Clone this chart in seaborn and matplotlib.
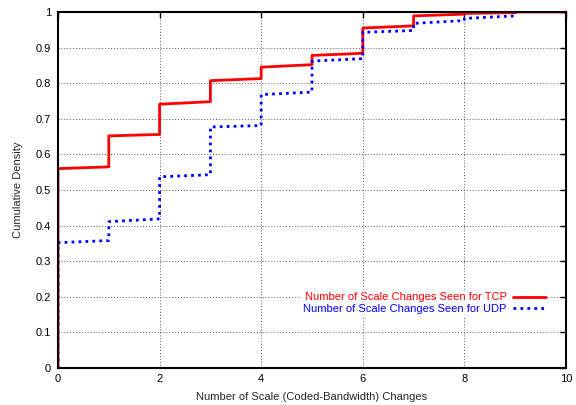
import numpy as np
import pandas as pd
import matplotlib
matplotlib.use("Agg")
import matplotlib.pyplot as plt
import seaborn as sns

# Empirical CDF of scale changes: value just before and just after each integer step
changes = [0, 1, 2, 3, 4, 5, 6, 7, 8, 9, 10]
tcp_before = [0.0, 0.565, 0.656, 0.748, 0.813, 0.852, 0.884, 0.961, 0.994, 0.998, 1.0]
tcp_after = [0.56, 0.652, 0.741, 0.807, 0.845, 0.878, 0.955, 0.989, 0.996, 1.0, 1.0]
udp_changes = [0, 1, 2, 3, 4, 5, 6, 7, 8, 9]
udp_before = [0.0, 0.358, 0.419, 0.543, 0.681, 0.775, 0.869, 0.948, 0.976, 0.989]
udp_after = [0.352, 0.411, 0.537, 0.677, 0.768, 0.862, 0.943, 0.968, 0.982, 1.0]

tcp_label = "Number of Scale Changes Seen for TCP"
udp_label = "Number of Scale Changes Seen for UDP"


def step_frame(xs, before, after, name):
    x = np.repeat(xs, 2)
    y = np.ravel(np.column_stack([before, after]))
    return pd.DataFrame({"changes": x, "cdf": y, "series": name})


df = pd.concat([
    step_frame(changes, tcp_before, tcp_after, tcp_label),
    step_frame(udp_changes, udp_before, udp_after, udp_label),
], ignore_index=True)

sns.set_style("white")
plt.rcParams["font.family"] = ["Liberation Sans", "DejaVu Sans"]

fig = plt.figure(figsize=(5.76, 4.05), dpi=100)
ax = fig.add_axes([0.1007, 0.0914, 0.8819, 0.879])

sns.lineplot(data=df[df.series == tcp_label], x="changes", y="cdf", sort=False,
             estimator=None, color="#ff0000", lw=2, ax=ax, label=tcp_label)
sns.lineplot(data=df[df.series == udp_label], x="changes", y="cdf", sort=False,
             estimator=None, color="#0000ff", lw=2, ax=ax, label=udp_label,
             linestyle=(0, (1, 1.5)), dash_capstyle="butt")

ax.set_xlim(0, 10)
ax.set_ylim(0, 1)
ax.set_xticks(np.arange(0, 11, 2))
ax.set_yticks(np.round(np.arange(0, 1.01, 0.1), 1))
ax.set_yticklabels(["0", "0.1", "0.2", "0.3", "0.4", "0.5", "0.6", "0.7", "0.8", "0.9", "1"])
ax.grid(True, color="#555555", linestyle=(0, (1, 2)), lw=0.7)
ax.set_axisbelow(True)
ax.tick_params(direction="in", length=4, width=1, top=True, right=True,
               labelsize=8, colors="black")
ax.tick_params(axis="y", pad=5)
ax.tick_params(axis="x", pad=4)
for s in ax.spines.values():
    s.set_color("black")
    s.set_linewidth(1.5)

ax.set_xlabel("Number of Scale (Coded-Bandwidth) Changes", fontsize=8, labelpad=6)
ax.set_ylabel("Cumulative Density", fontsize=8, labelpad=9)

leg = ax.legend(loc="upper right", bbox_to_anchor=(0.975, 0.234), markerfirst=False,
                frameon=True, fontsize=8, handlelength=2.9, handletextpad=0.6,
                labelspacing=0.1, borderpad=0.2, framealpha=1)
leg.get_frame().set_edgecolor("white")
leg.get_frame().set_boxstyle("square", pad=0)
for txt, c in zip(leg.get_texts(), ["#ff0000", "#0000ff"]):
    txt.set_color(c)

fig.savefig("out.png", dpi=100)
